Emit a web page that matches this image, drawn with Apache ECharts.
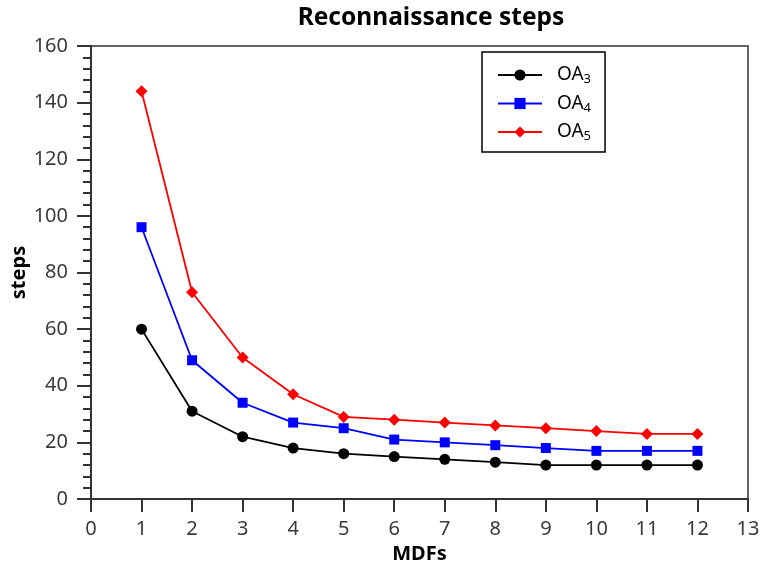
<!DOCTYPE html>
<html><head><meta charset="utf-8">
<script src="https://cdn.jsdelivr.net/npm/echarts@6/dist/echarts.min.js"></script>
<style>html,body{margin:0;padding:0;background:#fff}#c{width:763px;height:569px}</style>
</head><body><div id="c"></div>
<script>
const mdfs = [1,2,3,4,5,6,7,8,9,10,11,12];
const oa3 = [60,31,22,18,16,15,14,13,12,12,12,12];
const oa4 = [96,49,34,27,25,21,20,19,18,17,17,17];
const oa5 = [144,73,50,37,29,28,27,26,25,24,23,23];
const seriesNames = ['OA3','OA4','OA5'];
const seriesData = [oa3, oa4, oa5];
const colors = ['#000000','#0000ff','#ff0000'];
const symbols = ['circle','rect','diamond'];
const symSizes = [11,10,12];
const xTicks = [0,1,2,3,4,5,6,7,8,9,10,11,12,13];
const yTicks = [0,20,40,60,80,100,120,140,160];

const FONT = 'Noto Sans';
const chart = echarts.init(document.getElementById('c'));
chart.setOption({
  animation:false,
  title:{text:'Reconnaissance steps',left:426,textAlign:'center',top:1,
    textStyle:{fontFamily:FONT,fontSize:24.5,fontWeight:'bold',color:'#000'}},
  grid:{left:91,right:15,top:46,bottom:70,show:true,borderColor:'#333',borderWidth:1.5,
    backgroundColor:'transparent',containLabel:false,outerBoundsMode:'none'},
  legend:{orient:'vertical',left:482,top:52,
    padding:[12,14,9,15],itemGap:6.5,itemWidth:44,itemHeight:14,
    borderColor:'#000',borderWidth:1.5,backgroundColor:'#fff',
    data:seriesNames,
    formatter:n=>'{a|OA}{s|'+n.slice(2)+'}',
    textStyle:{fontFamily:FONT,fontSize:18,color:'#000',
      rich:{a:{fontFamily:FONT,fontSize:19,color:'#000',lineHeight:20,padding:[0,0,0,10]},
            s:{fontFamily:FONT,fontSize:13,color:'#000',lineHeight:20,padding:[9,0,0,0]}}}
  },
  xAxis:{type:'value',min:xTicks[0],max:xTicks[xTicks.length-1],interval:1,
    name:'MDFs',nameLocation:'middle',nameGap:45,nameMoveOverlap:false,
    nameTextStyle:{fontFamily:FONT,fontSize:20,fontWeight:'bold',color:'#000'},
    axisLine:{lineStyle:{color:'#333',width:2}},
    axisTick:{length:13,inside:false,lineStyle:{color:'#333',width:2}},
    axisLabel:{fontFamily:FONT,fontSize:20,color:'#3a3a3a',margin:20},
    splitLine:{show:false}},
  yAxis:{type:'value',min:yTicks[0],max:yTicks[yTicks.length-1],interval:20,
    name:'steps',nameLocation:'middle',nameGap:62,nameRotate:90,nameMoveOverlap:false,
    nameTextStyle:{fontFamily:FONT,fontSize:20,fontWeight:'bold',color:'#000'},
    axisLine:{show:true,lineStyle:{color:'#333',width:2}},
    axisTick:{show:true,length:14,lineStyle:{color:'#333',width:2}},
    minorTick:{show:true,splitNumber:5,length:8,lineStyle:{color:'#333',width:2}},
    axisLabel:{fontFamily:FONT,fontSize:20,color:'#3a3a3a',margin:23},
    splitLine:{show:false}},
  series:seriesNames.map((n,i)=>({
    name:n,type:'line',data:mdfs.map((x,j)=>[x,seriesData[i][j]]),
    symbol:symbols[i],symbolSize:symSizes[i],showSymbol:true,
    lineStyle:{color:colors[i],width:1.8},itemStyle:{color:colors[i]},z:3+i
  }))
});
</script></body></html>
